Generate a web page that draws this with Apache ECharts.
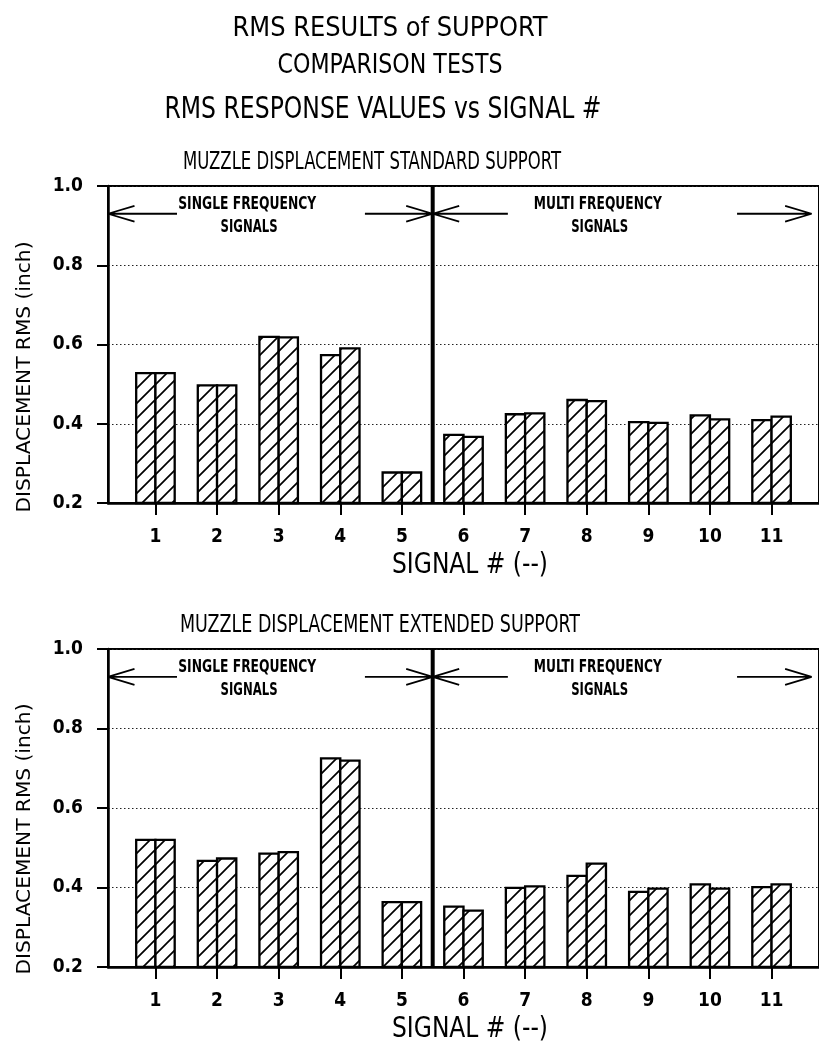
<!DOCTYPE html>
<html><head><meta charset="utf-8">
<script src="https://cdn.jsdelivr.net/npm/echarts@6/dist/echarts.min.js"></script>
<style>html,body{margin:0;padding:0;background:#fff}#c{width:819px;height:1044px}</style>
</head><body><div id="c"></div>
<script>
// ---------------- DATA ----------------
const signals = [1, 2, 3, 4, 5, 6, 7, 8, 9, 10, 11];
const signalLabels = ['1', '2', '3', '4', '5', '6', '7', '8', '9', '10', '11'];
const yTickLabels = ['0.2', '0.4', '0.6', '0.8', '1.0'];
const standardFirst  = [0.528, 0.497, 0.619, 0.573, 0.277, 0.372, 0.424, 0.460, 0.404, 0.421, 0.409];
const standardSecond = [0.528, 0.497, 0.618, 0.590, 0.277, 0.367, 0.426, 0.457, 0.402, 0.411, 0.418];
const extendedFirst  = [0.520, 0.467, 0.485, 0.725, 0.363, 0.352, 0.399, 0.429, 0.389, 0.408, 0.401];
const extendedSecond = [0.520, 0.473, 0.489, 0.719, 0.363, 0.342, 0.403, 0.460, 0.397, 0.397, 0.408];
const panelTitles = ['MUZZLE DISPLACEMENT STANDARD SUPPORT', 'MUZZLE DISPLACEMENT EXTENDED SUPPORT'];
const mainTitles = ['RMS RESULTS of SUPPORT', 'COMPARISON TESTS', 'RMS RESPONSE VALUES vs SIGNAL #'];
const xAxisName = 'SIGNAL # (--)';
const yAxisName = 'DISPLACEMENT RMS (inch)';
const groupNames = ['SINGLE FREQUENCY', 'SIGNALS', 'MULTI FREQUENCY', 'SIGNALS'];
const groupBoundary = 5.5;

// ---------------- LAYOUT ----------------
const FONT = "'Liberation Sans Narrow','DejaVu Sans Condensed','Liberation Sans',Arial,sans-serif";
const mctx = document.createElement('canvas').getContext('2d');
function fitScale(text, size, weight, target) {
  mctx.font = weight + ' ' + size + 'px ' + FONT;
  return target / mctx.measureText(text).width;
}
function txt(text, x, y, size, weight, width, rot) {
  return {
    type: 'text', x: x, y: y, rotation: rot || 0,
    scaleX: fitScale(text, size, weight, width),
    style: { text: text, font: weight + ' ' + size + 'px ' + FONT, fill: '#000',
             align: 'center', verticalAlign: 'middle' }
  };
}

// hatch pattern
const hatch = document.createElement('canvas');
hatch.width = 15; hatch.height = 15;
(function () {
  const c = hatch.getContext('2d');
  c.fillStyle = '#fff'; c.fillRect(0, 0, 15, 15);
  c.strokeStyle = '#000'; c.lineWidth = 1.7;
  c.beginPath();
  c.moveTo(-2, 17); c.lineTo(17, -2);
  c.moveTo(-2, 2); c.lineTo(2, -2);
  c.moveTo(13, 17); c.lineTo(17, 13);
  c.stroke();
})();

const X_MIN = 0.23, X_MAX = 11.77;
const BAR_W = 0.3125;          // one bar width in category units
const ARROW_Y = 0.93, HEAD_DX = 0.43, HEAD_DY = 0.02;
const arrows = [               // [tip, shaft end]
  [X_MIN + 0.0, 1.35],
  [groupBoundary, 4.40],
  [groupBoundary, 6.72],
  [11.65, 10.44]
];
const annos = [
  { x: 2.49, y: 0.954, w: 138 },
  { x: 2.52, y: 0.896, w: 57 },
  { x: 8.18, y: 0.954, w: 128 },
  { x: 8.21, y: 0.896, w: 57 }
];
const grids = [
  { left: 108, top: 186, width: 720, height: 317, show: true, borderColor: '#000', borderWidth: 2 },
  { left: 108, top: 649, width: 720, height: 318, show: true, borderColor: '#000', borderWidth: 2 }
];

const xAxes = grids.map((g, i) => ({
  type: 'value', gridIndex: i, min: X_MIN, max: X_MAX,
  axisLine: { show: true, lineStyle: { color: '#000', width: 2.5 } },
  axisTick: { show: true, customValues: signals, length: 12, lineStyle: { color: '#000', width: 2 } },
  axisLabel: { show: true, customValues: signals, margin: 25,
    formatter: v => signalLabels[signals.indexOf(Math.round(v))] || '',
    color: '#000', fontSize: 19, fontWeight: 'bold', fontFamily: FONT },
  splitLine: { show: false }
}));
const yAxes = grids.map((g, i) => ({
  type: 'value', gridIndex: i, min: 0.2, max: 1.0, interval: 0.2,
  axisLine: { show: true, lineStyle: { color: '#000', width: 2.5 } },
  axisTick: { show: true, length: 11, lineStyle: { color: '#000', width: 2 } },
  axisLabel: { margin: 25, color: '#000', fontSize: 19, fontWeight: 'bold', fontFamily: FONT,
    formatter: v => yTickLabels[Math.round((v - 0.2) / 0.2)] },
  splitLine: { show: true, lineStyle: { color: '#222', width: 1.2, type: [1.5, 2.5] } }
}));

const panels = [[standardFirst, standardSecond], [extendedFirst, extendedSecond]];
const series = [];
panels.forEach((vals, k) => {
  const [A, B] = vals;
  series.push({
    type: 'custom', xAxisIndex: k, yAxisIndex: k,
    encode: { x: 0, y: [1, 2] },
    data: signals.map((s, i) => [s, A[i], B[i]]),
    renderItem: function (params, api) {
      const n = api.value(0);
      const base = api.coord([n, 0.2]);
      const w = api.size([BAR_W, 0])[0];
      const ta = api.coord([n, api.value(1)]);
      const tb = api.coord([n, api.value(2)]);
      const st = { fill: { image: hatch, repeat: 'repeat' }, stroke: '#000', lineWidth: 2.3 };
      return { type: 'group', children: [
        { type: 'rect', shape: { x: base[0] - w, y: ta[1], width: w, height: base[1] - ta[1] }, style: st },
        { type: 'rect', shape: { x: base[0], y: tb[1], width: w, height: base[1] - tb[1] }, style: st }
      ]};
    }
  });
  series.push({
    type: 'line', xAxisIndex: k, yAxisIndex: k, silent: true, symbol: 'none',
    data: [[groupBoundary, 0.2], [groupBoundary, 1.0]],
    lineStyle: { color: '#000', width: 4 }, z: 5
  });
  arrows.forEach(([tip, end]) => {
    const d = end > tip ? HEAD_DX : -HEAD_DX;
    series.push({
      type: 'line', xAxisIndex: k, yAxisIndex: k, silent: true, symbol: 'none',
      data: [[tip + d, ARROW_Y + HEAD_DY], [tip, ARROW_Y], [tip + d, ARROW_Y - HEAD_DY], [tip, ARROW_Y], [end, ARROW_Y]],
      lineStyle: { color: '#000', width: 1.8 }, z: 6
    });
  });
  series.push({
    type: 'custom', xAxisIndex: k, yAxisIndex: k, clip: false, silent: true,
    data: annos.map(a => [a.x, a.y]),
    renderItem: function (params, api) {
      const a = annos[params.dataIndex];
      const t = groupNames[params.dataIndex];
      const p = api.coord([a.x, a.y]);
      return { type: 'text', x: p[0], y: p[1], scaleX: fitScale(t, 18, 'bold', a.w),
        style: { text: t, font: 'bold 18px ' + FONT, fill: '#000', align: 'center', verticalAlign: 'middle' } };
    }
  });
});

const graphic = [
  txt(mainTitles[0], 390, 29, 27, 'normal', 315),
  txt(mainTitles[1], 390, 66, 27, 'normal', 225),
  txt(mainTitles[2], 383, 110, 31, 'normal', 437),
  txt(panelTitles[0], 372, 162, 25, 'normal', 378),
  txt(panelTitles[1], 380, 625, 25, 'normal', 400),
  txt(xAxisName, 470, 566, 28, 'normal', 156),
  txt(xAxisName, 470, 1030, 28, 'normal', 156),
  txt(yAxisName, 25, 377, 19, 'normal', 271, Math.PI / 2),
  txt(yAxisName, 25, 839, 19, 'normal', 271, Math.PI / 2)
];

const chart = echarts.init(document.getElementById('c'), null, { renderer: 'canvas' });
chart.setOption({
  backgroundColor: '#fff',
  animation: false,
  grid: grids,
  xAxis: xAxes,
  yAxis: yAxes,
  series: series,
  graphic: graphic
});
</script></body></html>
